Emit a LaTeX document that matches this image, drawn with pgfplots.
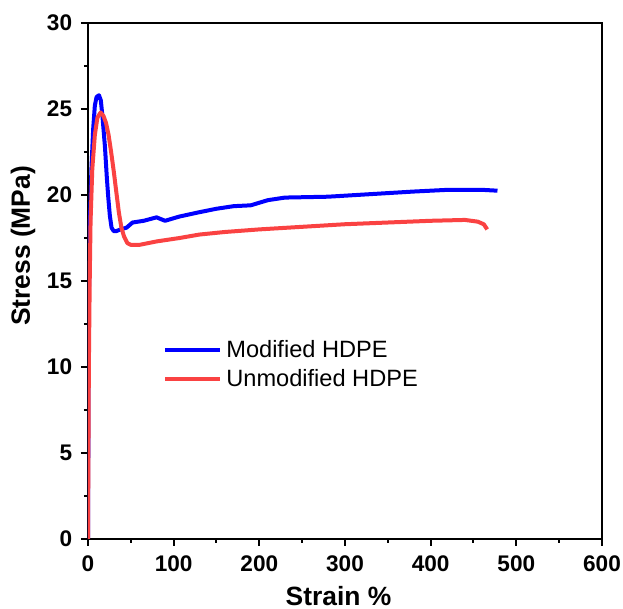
\documentclass[border=0pt]{standalone}
\usepackage{fontspec}
\setmainfont{Liberation Sans}
\usepackage{pgfplots}
\pgfplotsset{compat=1.18}
\definecolor{modblue}{RGB}{0,0,255}
\definecolor{unmodred}{RGB}{250,66,66}

\begin{document}
\begin{tikzpicture}
\useasboundingbox (-44pt,-35pt) rectangle (267.5pt,269.5pt);
\begin{axis}[
    at={(0,0)}, anchor=south west,
    scale only axis,
    width=257pt, height=258pt,
    xmin=0, xmax=600, ymin=0, ymax=30,
    xtick={0,100,...,600}, ytick={0,5,...,30},
    minor x tick num=1, minor y tick num=1,
    tick pos=left, tick align=outside,
    major tick length=3.5pt, minor tick length=2pt,
    axis line style={line width=1pt},
    every tick/.style={line width=1pt, black},
    /pgf/number format/assume math mode=true,
    ticklabel style={font=\fontsize{11.3}{13}\selectfont\bfseries, inner sep=0pt},
    xticklabel style={anchor=north, yshift=-4.5pt},
    yticklabel style={anchor=east, xshift=-4.25pt},
    xlabel={Strain \%}, ylabel={Stress (MPa)},
    label style={font=\fontsize{13.2}{16}\selectfont\bfseries, inner sep=0pt},
    xlabel style={at={(axis description cs:0.5,0)}, anchor=center, yshift=-28.4pt, xshift=-3.25pt},
    ylabel style={at={(axis description cs:0,0.568)}, anchor=center, yshift=32.5pt},
    legend style={draw=none, fill=none, inner sep=0pt, at={(axis cs:87.5,10.12)}, anchor=west,
        font=\fontsize{11.8}{14}\selectfont, row sep=0.5pt, column sep=0pt,
        cells={anchor=west, inner sep=0pt}},
    legend image code/.code={\draw[#1, line width=2pt] (0pt,0pt) -- (27.5pt,0pt);},
]
\addplot[modblue, line width=2pt, line join=round] coordinates {
(0,0) (0.5,8) (1,14) (2,18) (4,21.5) (6,23.8) (8,25.2) (10,25.7) (12.8,25.8)
(15,25.5) (17,24.5) (19.8,22.8) (22,21) (23.6,19.9) (25.5,18.8) (27.5,18.1)
(30,17.9) (33,17.9) (38,18.0) (45,18.1) (52,18.4) (65,18.5) (80,18.7) (85,18.6)
(90,18.5) (100,18.65) (107,18.75) (130,19.0) (150,19.2) (170,19.35) (190,19.4)
(210,19.7) (230,19.85) (280,19.9) (330,20.05) (380,20.2) (420,20.3) (460,20.3)
(478,20.25)
};
\addlegendentry{Modified HDPE}
\addplot[unmodred, line width=2pt, line join=round] coordinates {
(0,0) (0.5,5) (1,10) (2,15) (3,18.5) (5,21.5) (8,23.5) (11,24.5) (14.7,24.8)
(18,24.6) (21,24.2) (24,23.5) (27,22.5) (30,21.4) (33,20.2) (36,19.0) (39,18.1)
(42,17.6) (46,17.2) (50,17.1) (60,17.1) (80,17.3) (107,17.5) (130,17.7)
(160,17.85) (200,18.0) (250,18.15) (300,18.3) (350,18.4) (400,18.5) (440,18.55)
(455,18.45) (462,18.3) (466,18.0)
};
\addlegendentry{Unmodified HDPE}
\end{axis}
\end{tikzpicture}
\end{document}
